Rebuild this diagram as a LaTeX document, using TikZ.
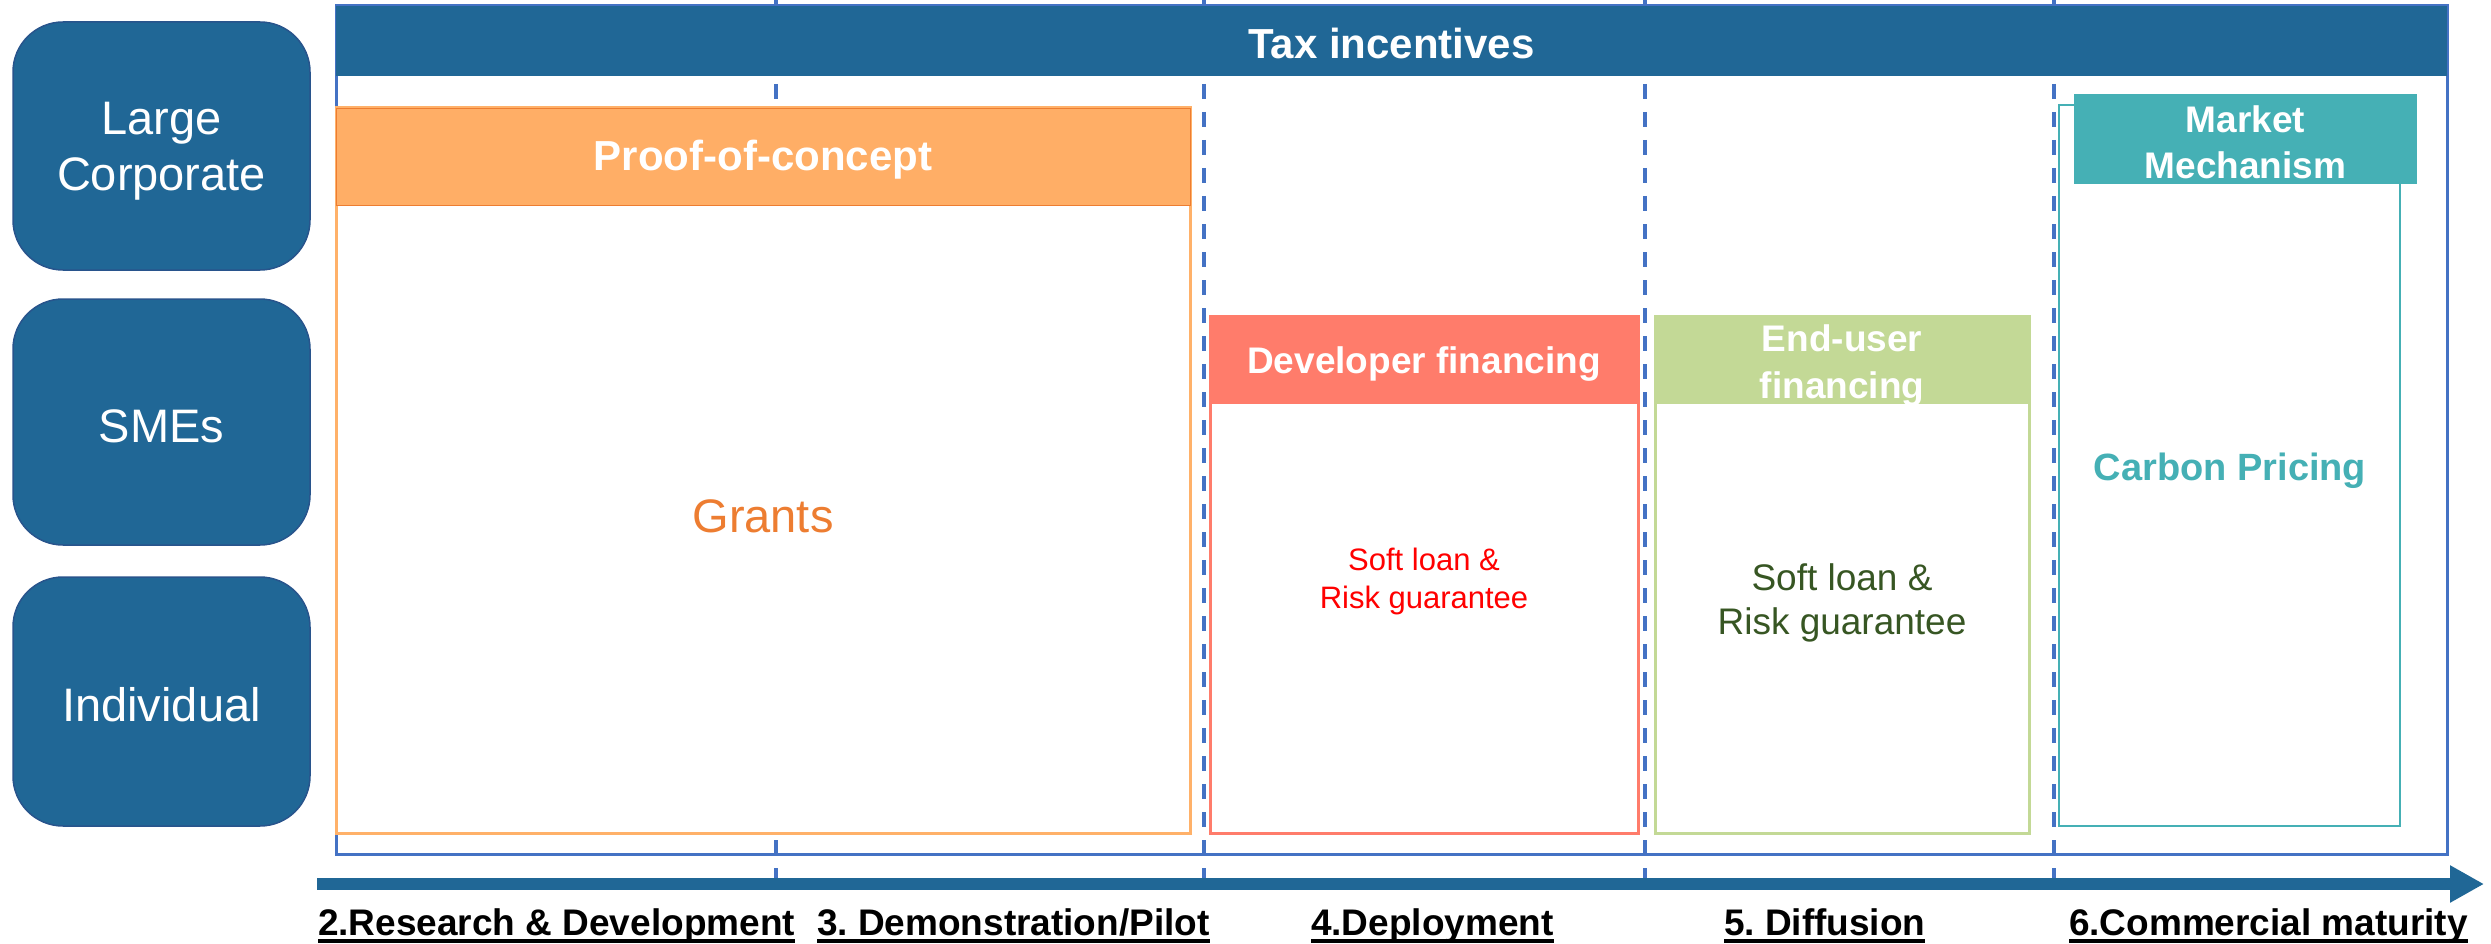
\documentclass[tikz,border=0pt]{standalone}
\usepackage{fontspec}
\setmainfont{Liberation Sans}
\usetikzlibrary{arrows.meta}
\definecolor{dblue}{RGB}{32,103,150}
\definecolor{rowedge}{RGB}{40,84,140}
\definecolor{lineblue}{RGB}{68,114,196}
\definecolor{orhead}{RGB}{255,174,102}
\definecolor{orline}{RGB}{237,125,49}
\definecolor{orbox}{RGB}{255,177,105}
\definecolor{salmon}{RGB}{255,124,107}
\definecolor{lgreen}{RGB}{195,217,150}
\definecolor{dgreen}{RGB}{55,86,35}
\definecolor{tealc}{RGB}{69,176,181}
\frenchspacing
\begin{document}
\begin{tikzpicture}[x=1pt,y=-1pt,
  every node/.style={inner sep=0pt, outer sep=0pt},
  rowbox/.style={rectangle, rounded corners=50pt, fill=dblue, draw=rowedge, line width=1.5pt,
    minimum width=297pt, text=white, align=center, font=\fontsize{47}{56}\selectfont},
  outerbox/.style={rectangle, fill=white, line width=3pt},
  headbox/.style={rectangle, text=white, align=center, font=\bfseries\fontsize{37}{44}\selectfont},
  stage/.style={anchor=base west, font=\bfseries\fontsize{37}{44}\selectfont},
  guide/.style={lineblue, line width=3.5pt, dash pattern=on 15pt off 13pt},
  uline/.style={line width=4pt}]
\useasboundingbox (0,0) rectangle (2491,944);

% row labels
\node[rowbox, minimum height=248pt] (lc) at (161.5,146) {};
\node[text=white, align=center, font=\fontsize{47}{56}\selectfont] (lctxt) at (161.5,151) {Large\\Corporate};
\node[rowbox, minimum height=246pt] (sme) at (161.5,422) {};
\node[text=white, font=\fontsize{47}{56}\selectfont] (smetxt) at (161.5,426) {SMEs};
\node[rowbox, minimum height=249pt] (ind) at (161.5,701.5) {};
\node[text=white, font=\fontsize{47}{56}\selectfont] (indtxt) at (161.5,705) {Individual};

% stage guides
\foreach \x/\n in {776/g1,1204/g2,1645/g3,2054/g4}{
  \coordinate (\n t) at (\x,0);
  \coordinate (\n b) at (\x,878);
  \draw[guide] (\n t) -- (\n b);
}

% frame and tax bar
\node[draw=lineblue, line width=3pt, minimum width=2111pt, minimum height=848pt] (frame) at (1391.5,430) {};
\node[fill=dblue, minimum width=2111pt, minimum height=70pt] (tax) at (1391.5,41) {};
\node[text=white, font=\bfseries\fontsize{42}{50}\selectfont] (taxtxt) at (1391.5,43) {Tax incentives};

% proof of concept
\node[outerbox, draw=orbox, minimum width=854pt, minimum height=725pt] (poc) at (763,470.5) {};
\node[headbox, fill=orhead, draw=orline, minimum width=854pt, minimum height=97pt] (pochead) at (763,156.5) {};
\node[text=white, font=\bfseries\fontsize{42}{50}\selectfont] (poctxt) at (763,160) {Proof-of-concept};
\node[text=orline, font=\fontsize{47}{56}\selectfont] (grants) at (763,516) {Grants};

% developer financing
\node[outerbox, draw=salmon, minimum width=428pt, minimum height=517pt] (dev) at (1424,574.5) {};
\node[headbox, fill=salmon, minimum width=428pt, minimum height=88pt] (devhead) at (1424,360) {};
\node[text=white, font=\bfseries\fontsize{37}{44}\selectfont] (devtitle) at (1424,364) {Developer financing};
\node[text=red, align=center, font=\fontsize{31}{38}\selectfont] (devtxt) at (1424,581) {Soft loan \&\\Risk guarantee};

% end-user financing
\node[outerbox, draw=lgreen, minimum width=374pt, minimum height=517pt] (eu) at (1842,574.5) {};
\node[headbox, fill=lgreen, minimum width=374pt, minimum height=88pt] (euhead) at (1842,360) {};
\node[text=white, align=center, font=\bfseries\fontsize{37}{47}\selectfont] (eutitle) at (1842,366) {End-user\\financing};
\node[text=dgreen, align=center, font=\fontsize{37}{44}\selectfont] (eutxt) at (1842,603) {Soft loan \&\\Risk guarantee};

% market mechanism
\node[outerbox, draw=tealc, line width=2.5pt, minimum width=341pt, minimum height=721pt] (mm) at (2229.5,465.5) {};
\node[headbox, fill=tealc, minimum width=343pt, minimum height=90pt] (mmhead) at (2245.5,139) {};
\node[text=white, align=center, font=\bfseries\fontsize{37}{46}\selectfont] (mmtxt) at (2245.5,142) {Market\\Mechanism};
\node[text=tealc, font=\bfseries\fontsize{38}{46}\selectfont] (carbon) at (2230,471) {Carbon Pricing};

% timeline arrow
\coordinate (aL) at (317,884);
\coordinate (aR) at (2484,884);
\draw[dblue, line width=12pt, -{Triangle[length=34pt, width=35pt]}] (aL) -- (aR);

% stages
\node[stage] (s2) at (318,935) {2.Research \& Development};
\node[stage] (s3) at (817,935) {3. Demonstration/Pilot};
\node[stage] (s4) at (1311,935) {4.Deployment};
\node[stage] (s5) at (1724,935) {5. Diffusion};
\node[stage] (s6) at (2069,935) {6.Commercial maturity};
\foreach \n in {s2,s3,s4,s5,s6}{
  \draw[uline] ([yshift=-5.5pt]\n.base west) -- ([yshift=-5.5pt]\n.base east);
}
\end{tikzpicture}
\end{document}
